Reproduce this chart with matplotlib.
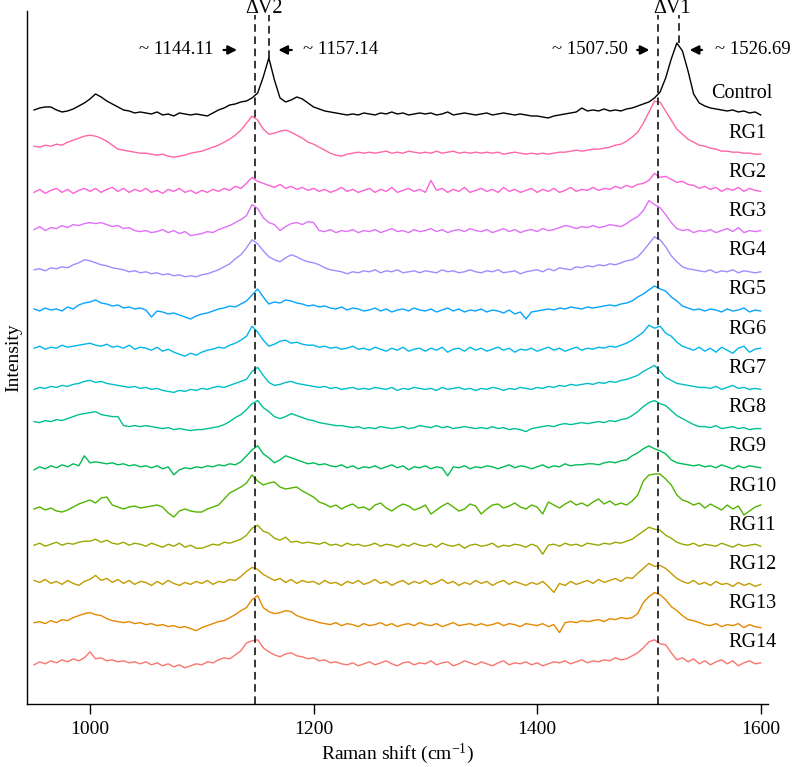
import numpy as np
import matplotlib
matplotlib.use("Agg")
import matplotlib.pyplot as plt

plt.rcParams['font.family'] = ['Liberation Serif', 'DejaVu Serif']
plt.rcParams['mathtext.fontset'] = 'custom'
plt.rcParams['mathtext.rm'] = 'Liberation Serif'
plt.rcParams['mathtext.it'] = 'Liberation Serif:italic'

# Raman shift grid (cm-1), 5 cm-1 steps from 950 to 1600
shift = np.arange(950, 1601, 5)

# spectra (arbitrary units above each baseline)
control = [5, 7, 8, 8, 5, 3, 4, 6, 9, 12,
           16, 21, 18, 14, 11, 8, 5, 4, 2, 3,
           2, 1, 3, 0, 1, -1, 2, 1, 0, 1,
           0, -1, 2, 5, 7, 10, 11, 13, 14, 17,
           22, 38, 57, 35, 17, 13, 15, 18, 16, 12,
           8, 6, 4, 3, 2, 1, 0, 1, 0, 2,
           1, 0, 2, 1, 3, 1, 2, 0, 1, 2,
           1, 2, 0, 1, 3, 0, 1, 2, 1, 0,
           1, 2, 0, 1, 2, 1, 0, 1, 0, -1,
           -1, -2, -3, -1, 0, 1, 2, 3, 7, 4,
           5, 4, 6, 4, 5, 4, 6, 7, 9, 11,
           13, 17, 23, 37, 56, 72, 64, 44, 21, 12,
           9, 7, 6, 5, 4, 5, 3, 4, 2, 3,
           0]
rg1 = [8, 7, 9, 8, 10, 9, 12, 14, 16, 18,
       19, 18, 16, 13, 9, 5, 4, 3, 2, 1,
       1, 0, -1, 0, -2, -3, -2, -1, 1, 2,
       3, 5, 7, 9, 12, 15, 19, 24, 31, 38,
       34, 25, 20, 21, 23, 24, 22, 19, 16, 12,
       10, 7, 4, 1, -1, -2, 0, 1, 2, 1,
       2, 1, 2, 3, 1, 2, 1, 3, 2, 1,
       2, 1, 3, 1, 2, 3, 1, 2, 1, 2,
       1, 2, 1, 2, 0, 1, 2, 1, 0, 1,
       0, 1, 0, 1, 2, 2, 3, 4, 3, 4,
       5, 5, 6, 7, 9, 10, 13, 17, 22, 31,
       42, 53, 52, 43, 34, 25, 20, 15, 12, 9,
       8, 6, 5, 3, 3, 2, 2, 1, 1, 0,
       0]
rg2 = [1, 4, 0, 3, 5, 1, 4, 0, 3, 5,
       2, 5, 1, 4, 6, 2, 5, 1, 4, 2,
       5, 1, 3, 0, 4, 2, 5, 1, 3, 0,
       3, 1, 4, 2, 5, 3, 7, 5, 10, 16,
       12, 10, 8, 6, 9, 5, 7, 4, 6, 3,
       5, 2, 4, 1, 3, 6, 2, 4, 1, 3,
       5, 1, 4, 2, 6, 1, 3, 5, 2, 4,
       1, 13, 3, 5, 1, 4, 2, 6, 1, 3,
       5, 2, 4, 1, 6, 2, 4, 1, 3, 5,
       1, 4, 2, 5, 1, 3, 6, 2, 4, 3,
       6, 3, 5, 4, 7, 5, 8, 6, 9, 10,
       13, 20, 16, 17, 14, 11, 12, 9, 8, 5,
       7, 4, 6, 2, 5, 3, 6, 2, 5, 3,
       2]
rg3 = [3, 6, 2, 5, 4, 7, 5, 8, 7, 9,
       10, 9, 10, 8, 6, 7, 4, 5, 2, 1,
       2, 0, 1, 3, 0, 2, -1, 1, -3, -2,
       -1, 1, 0, 3, 5, 7, 10, 13, 17, 28,
       24, 15, 10, 8, 2, 6, 9, 10, 8, 11,
       10, 2, 1, 3, 0, 2, 1, 3, 0, 2,
       1, 3, 0, 2, 4, 1, 2, 0, 3, 1,
       2, 4, 1, 3, 0, 2, 3, 1, 4, 2,
       1, 3, 0, 2, 4, 1, 3, 0, 2, 3,
       1, 4, 2, 3, 5, 7, 6, 4, 6, 5,
       7, 5, 6, 8, 7, 6, 9, 13, 16, 22,
       32, 28, 25, 18, 10, 4, 2, 3, 0, 2,
       1, 3, 0, 2, 4, 1, 5, 0, 2, 1,
       2]
rg4 = [2, 3, 1, 4, 3, 5, 4, 7, 9, 12,
       11, 9, 7, 6, 4, 3, 2, 0, 1, -1,
       0, -2, -1, -3, -2, -4, -3, -5, -4, -5,
       -3, -2, 0, 2, 5, 8, 13, 17, 24, 32,
       28, 21, 15, 12, 10, 14, 17, 15, 12, 10,
       9, 7, 4, 2, 1, 0, -2, 0, -1, 1,
       0, 2, -1, 1, 0, 2, -1, 0, 1, -1,
       1, 0, -1, 2, 0, 1, -1, 0, 2, 0,
       -1, 1, 0, 2, -1, 0, 1, -2, 0, 1,
       2, 0, 3, 1, 4, 3, 2, 5, 4, 6,
       5, 7, 6, 8, 7, 9, 11, 12, 15, 21,
       28, 35, 32, 25, 16, 10, 5, 3, 2, 1,
       0, 2, -1, 1, 0, 2, -1, 1, 0, -1,
       0]
rg5 = [2, 0, 3, 1, 2, 0, 4, 2, 6, 8,
       9, 11, 8, 7, 5, 6, 3, 4, 2, 3,
       1, -6, 0, -1, -3, -2, -4, -6, -8, -5,
       -3, -2, 0, 2, 3, 5, 4, 7, 10, 16,
       22, 14, 7, 9, 8, 11, 10, 8, 7, 5,
       6, 4, 5, 3, 2, 4, 1, 3, 2, 0,
       1, 3, 0, 2, -1, 1, 2, 0, 3, 1,
       0, 2, -1, 1, 3, 0, 2, -1, 1, 0,
       2, -1, 1, 0, -2, 1, -3, -1, -8, -1,
       0, 1, 2, 1, 3, 2, 4, 3, 2, 4,
       3, 4, 5, 6, 5, 7, 8, 10, 14, 17,
       21, 25, 22, 20, 14, 10, 5, 3, 1, 2,
       0, 2, 1, -1, 2, 0, 1, 3, -1, 1,
       0]
rg6 = [2, 4, 1, 3, 2, 5, 3, 4, 5, 6,
       7, 5, 4, 6, 3, 4, 2, 5, 1, 3,
       2, 0, 3, -1, 1, -2, -4, -6, -3, -5,
       -2, 0, 1, 3, 2, 5, 7, 10, 14, 24,
       18, 10, 4, 6, 9, 10, 7, 8, 6, 5,
       5, 3, 4, 2, 3, 1, 2, 4, 1, 2,
       0, 3, 1, -1, 2, 0, 3, -1, 1, 2,
       -1, 2, 0, 3, -2, 1, 2, -1, 3, 0,
       2, -1, 1, 3, 0, 2, -2, 1, 0, 2,
       -1, 1, 3, 0, 2, -1, 1, 3, 0, 2,
       1, 3, 2, 4, 3, 5, 7, 10, 14, 18,
       25, 22, 24, 17, 14, 8, 4, 2, 0, 3,
       -1, 2, -2, 3, 0, -3, 2, 4, -2, 1,
       2]
rg7 = [0, 2, 1, 3, 2, 4, 3, 5, 6, 8,
       9, 7, 8, 6, 5, 4, 3, 2, 3, 1,
       2, 0, 1, -1, -2, -3, -1, -2, 0, -1,
       1, 0, 2, 3, 2, 4, 6, 8, 10, 18,
       22, 14, 7, 4, 5, 7, 8, 6, 5, 4,
       3, 2, 3, 1, 2, 0, 1, 2, 0, 1,
       0, 2, 1, 0, 2, -1, 1, 0, 2, 1,
       0, 1, -1, 2, 0, 1, 2, 0, 1, -1,
       1, 0, 2, 1, -1, 1, 0, 2, 1, 0,
       2, 1, 3, 2, 4, 3, 5, 4, 5, 6,
       5, 7, 6, 8, 7, 9, 10, 12, 14, 18,
       21, 24, 18, 12, 9, 6, 5, 4, 3, 2,
       2, 1, 3, 0, 2, 4, 1, 2, 0, 1,
       0]
rg8 = [7, 6, 8, 7, 9, 8, 10, 12, 14, 15,
       16, 17, 14, 13, 12, 12, 3, 2, 3, 2,
       3, 2, 1, 0, 1, -1, 0, -1, -2, -1,
       -1, 0, 1, 2, 4, 7, 11, 14, 19, 25,
       28, 21, 17, 12, 10, 12, 15, 13, 11, 9,
       8, 6, 5, 4, 3, 3, 2, 1, 2, 0,
       1, 0, 2, 1, 0, 1, 2, 0, 1, 3,
       2, 1, 3, 1, 2, 0, 1, 2, 1, 0,
       1, 0, 2, 0, 1, -1, 0, -1, -3, 0,
       1, 2, 3, 2, 4, 5, 4, 5, 6, 5,
       6, 7, 6, 8, 7, 9, 10, 13, 17, 22,
       26, 28, 25, 23, 18, 13, 10, 7, 4, 2,
       2, 1, 3, 0, 1, 2, 0, 1, -1, 0,
       0]
rg9 = [-2, 1, -1, 2, 0, 3, 1, 4, 2, 12,
       5, 6, 5, 4, 5, 3, 4, 2, 3, 1,
       2, 0, 2, -1, 1, -7, -2, 0, -1, 1,
       0, 2, 1, 3, 2, 4, 3, 6, 12, 18,
       22, 14, 10, 5, 8, 12, 10, 8, 6, 4,
       5, 3, 4, 2, 1, 3, 0, 2, -1, 1,
       0, 2, -1, 1, 3, 0, 2, -2, 1, 0,
       2, -1, 1, 0, -8, 1, 0, 2, -1, 1,
       0, 2, 1, -1, 1, 3, 0, 2, 1, -1,
       1, 3, 0, 2, 1, 4, 2, 3, 3, 4,
       4, 3, 5, 6, 5, 7, 8, 12, 15, 19,
       22, 19, 17, 14, 8, 5, 4, 3, 2, 3,
       1, 2, 0, 3, 1, -1, 2, 0, 2, 1,
       0]
rg10 = [-2, 0, -3, -1, -4, -5, -3, 0, 3, 5,
        7, 4, 9, 10, 2, 0, -2, 0, 1, -1,
        0, 1, 2, 0, -6, -10, -4, -2, -4, -5,
        -5, -2, 0, 2, 8, 14, 17, 20, 24, 32,
        26, 22, 24, 25, 20, 18, 19, 20, 16, 13,
        10, 5, 3, 0, 2, -2, 1, 3, -1, 0,
        -3, 2, 4, -1, -4, 0, 3, 1, -3, -1,
        2, -7, -3, 1, 4, 0, -4, -2, 3, 1,
        -7, -2, 2, 3, -1, 1, 4, 0, -2, 2,
        0, -7, 5, 2, -1, 3, 6, 2, 4, 1,
        5, 8, 3, 6, 2, 4, 2, 6, 12, 26,
        32, 33, 33, 28, 22, 12, 7, 5, 2, 4,
        -1, 3, 0, -3, 2, -2, 1, -8, -4, 0,
        2]
rg11 = [1, 3, 0, 2, 4, 1, 3, 2, 4, 5,
        5, 7, 4, 6, 3, 2, 4, 1, 3, 2,
        0, 3, 1, -1, 2, 0, 3, -1, 1, -2,
        -2, 0, 2, 1, 4, 3, 5, 7, 11, 18,
        21, 15, 13, 8, 6, 9, 4, 5, 3, 4,
        3, 2, 4, 1, 2, 0, 3, 1, 2, 0,
        1, 3, 0, 2, 1, -1, 2, 0, 3, 1,
        0, 2, -1, 3, 1, 0, 2, -2, 1, 2,
        0, 1, 3, -1, 1, 0, 2, 1, -1, 2,
        0, -8, 1, 2, 0, 3, 1, 2, 0, 3,
        2, 1, 3, 2, 4, 3, 5, 7, 11, 15,
        19, 17, 16, 11, 8, 4, 2, 1, 3, 0,
        2, 1, 0, 3, 1, -1, 2, 0, 1, 2,
        0]
rg12 = [5, 3, 6, 2, 4, 1, 5, 2, 0, 4,
        6, 10, 5, 7, 3, 6, 2, 5, 1, 4,
        3, 0, 4, 1, 5, 2, 0, 3, 1, 4,
        2, 5, 1, 4, 3, 6, 5, 9, 14, 18,
        16, 11, 8, 5, 7, 3, 6, 2, 5, 3,
        4, 1, 5, 2, 3, 0, 4, 2, 5, 1,
        3, 6, 2, 4, 0, 3, 5, 1, 4, 2,
        5, 1, 3, 6, 2, 4, 0, 3, 1, 5,
        2, 4, 0, 3, 5, 1, 4, 2, 0, 3,
        1, 4, -1, -7, 2, 0, 4, 1, 3, 5,
        2, 6, 3, 5, 7, 4, 8, 7, 12, 17,
        22, 19, 20, 17, 12, 7, 4, 2, 5, 1,
        3, 0, 4, 1, 2, -1, 3, 0, 2, -1,
        1]
rg13 = [2, 3, 1, 4, 2, 5, 4, 7, 9, 11,
        12, 10, 9, 6, 4, 3, 2, 3, 1, 2,
        0, 1, -1, 0, -2, -1, -3, -2, -4, -6,
        -3, -1, 1, 3, 4, 7, 10, 14, 17, 25,
        29, 17, 13, 11, 12, 14, 13, 9, 7, 5,
        4, 2, 1, 0, 2, -1, 1, 0, -2, 1,
        -1, 0, 2, -1, 1, -2, 0, 1, -1, 2,
        0, -1, 1, -2, 0, 2, -1, 0, 1, -1,
        1, -1, 0, 2, -1, 1, 0, -2, 1, 0,
        -1, 1, -2, 0, -8, 2, 3, 2, 4, 3,
        4, 5, 3, 6, 5, 7, 6, 7, 11, 22,
        28, 32, 30, 25, 18, 14, 9, 5, 4, 2,
        0, -1, 1, -2, 0, -1, 1, -3, 0, -2,
        -3]
rg14 = [-1, 2, 0, 3, 1, 4, 2, 5, 3, 6,
        12, 5, 6, 3, 4, 2, 3, 1, 2, 0,
        2, -1, 1, -2, 0, -3, -1, -4, -2, 0,
        -1, 2, 1, 4, 6, 5, 9, 13, 21, 23,
        24, 16, 12, 9, 7, 10, 11, 8, 7, 5,
        6, 3, 4, 1, 2, 0, -1, 1, -2, 0,
        2, -1, 1, 3, 0, -2, 1, 2, -1, 1,
        0, 3, -1, 1, 2, -2, 0, 3, 1, -1,
        2, 0, -2, 1, 3, -1, 1, 0, 2, -1,
        1, -2, 0, 2, 1, 3, 0, 2, 4, 1,
        3, 2, 4, 3, 6, 4, 5, 8, 11, 16,
        22, 24, 20, 19, 11, 4, 6, 2, 5, 0,
        3, -1, 2, 4, 0, 3, -2, 1, 3, 0,
        1]

names = ['Control', 'RG1', 'RG2', 'RG3', 'RG4', 'RG5', 'RG6', 'RG7',
         'RG8', 'RG9', 'RG10', 'RG11', 'RG12', 'RG13', 'RG14']
spectra = [control, rg1, rg2, rg3, rg4, rg5, rg6, rg7,
           rg8, rg9, rg10, rg11, rg12, rg13, rg14]
colors = ['black', '#FF66A8', '#FB61D7', '#DF70F8', '#A58AFF', '#06A4FF',
          '#00B6EB', '#00BFC4', '#00C094', '#00BC56', '#53B400', '#99A800',
          '#C49A00', '#E38900', '#F8766D']

# band positions marked on the figure
shift_v2, shift_v2_ctrl = 1147.5, 1160
shift_v1, shift_v1_ctrl = 1507.8, 1527

top_offset = 589
step = 39.2

fig = plt.figure(figsize=(7.95, 7.67), dpi=100)
ax = fig.add_axes([0.0336, 0.0821, 0.9321, 0.9036])

for i, (name, y, c) in enumerate(zip(names, spectra, colors)):
    off = top_offset - step * i
    ax.plot(shift, np.array(y) + off, color=c, lw=1.0)
    lx = 1556 if name == 'Control' else 1571
    ax.text(lx, off + 21, name, fontsize=14.5, ha='left', va='center')

dash = dict(color='black', lw=1.1, linestyle=(0, (5, 3)))
ax.plot([shift_v2, shift_v2], [0, 689], **dash)
ax.plot([shift_v1, shift_v1], [0, 689], **dash)
ax.plot([shift_v2_ctrl, shift_v2_ctrl], [top_offset + 57, 689], **dash)
ax.plot([shift_v1_ctrl, shift_v1_ctrl], [top_offset + 72, 689], **dash)

ax.text(1155.6, 695, 'ΔV2', fontsize=14.5, ha='center', va='center', clip_on=False)
ax.text(1520.6, 695, 'ΔV1', fontsize=14.5, ha='center', va='center', clip_on=False)

arr = dict(arrowstyle='-|>', color='black', lw=1.6, mutation_scale=13)
yt = 654
ax.text(1110, yt, '~ 1144.11', fontsize=13.5, ha='right', va='center')
ax.annotate('', xy=(1134, yt), xytext=(1117, yt), arrowprops=arr)
ax.annotate('', xy=(1166, yt), xytext=(1183, yt), arrowprops=arr)
ax.text(1190.5, yt, '~ 1157.14', fontsize=13.5, ha='left', va='center')
ax.text(1481, yt, '~ 1507.50', fontsize=13.5, ha='right', va='center')
ax.annotate('', xy=(1503, yt), xytext=(1487, yt), arrowprops=arr)
ax.annotate('', xy=(1534, yt), xytext=(1550, yt), arrowprops=arr)
ax.text(1559.5, yt, '~ 1526.69', fontsize=13.5, ha='left', va='center', clip_on=False)

ax.set_xlim(943.4, 1606.3)
ax.set_ylim(0, 693)
ax.set_xticks([1000, 1200, 1400, 1600])
ax.set_yticks([])
ax.tick_params(axis='x', labelsize=14, length=7, width=1, pad=5)
ax.spines['top'].set_visible(False)
ax.spines['right'].set_visible(False)
ax.spines['left'].set_linewidth(1.0)
ax.spines['bottom'].set_linewidth(1.0)
ax.set_xlabel('Raman shift (cm$^{-1}$)', fontsize=14, labelpad=3)
ax.set_ylabel('Intensity', fontsize=14, labelpad=3)

fig.savefig('out.png', dpi=100)
